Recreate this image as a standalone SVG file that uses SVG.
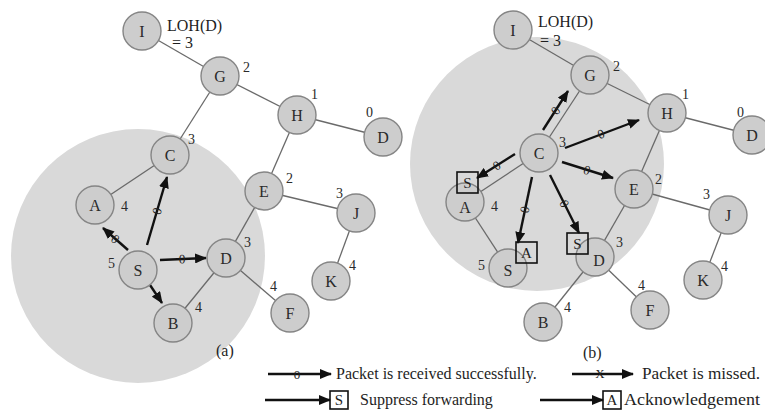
<svg xmlns="http://www.w3.org/2000/svg" width="765" height="412" viewBox="0 0 765 412">
  <style>
    .zone { fill: #d9d9d9; }
    .edge { stroke: #6a6a6a; stroke-width: 1.3; fill: none; }
    .node circle { fill: #cdcdcd; stroke: #858585; stroke-width: 1.4; }
    .node text { font-family: "Liberation Serif", serif; font-size: 16px; fill: #2a2a2a; text-anchor: middle; dominant-baseline: central; }
    .lvl { font-family: "Liberation Serif", serif; font-size: 14px; fill: #2a2a2a; }
    .note { font-family: "Liberation Serif", serif; font-size: 16px; fill: #1e1e1e; }
    .pkt { stroke: #111; stroke-width: 2.4; fill: none; marker-end: url(#head); }
    .mark { font-family: "Liberation Serif", serif; font-size: 13px; fill: #222; text-anchor: middle; dominant-baseline: central; }
    .box rect { fill: none; stroke: #111; stroke-width: 1.6; }
    .box text { font-family: "Liberation Serif", serif; font-size: 15px; fill: #1e1e1e; text-anchor: middle; dominant-baseline: central; }
  </style>
  <defs>
    <marker id="head" markerUnits="userSpaceOnUse" markerWidth="12" markerHeight="10" refX="11" refY="5" orient="auto">
      <path d="M0,0 L12,5 L0,10 Z" fill="#111"/>
    </marker>
  </defs>

  <rect width="765" height="412" fill="#ffffff"/>

  <!-- transmission ranges -->
  <circle class="zone" cx="138" cy="256" r="127"/>
  <circle class="zone" cx="537" cy="164" r="127"/>

  <!-- links -->
  <g id="connectors">
    <g id="links-a">
      <line class="edge" x1="142" y1="31" x2="220" y2="76"/>
      <line class="edge" x1="220" y1="76" x2="170" y2="155"/>
      <line class="edge" x1="220" y1="76" x2="297" y2="115"/>
      <line class="edge" x1="297" y1="115" x2="383" y2="137"/>
      <line class="edge" x1="297" y1="115" x2="264" y2="191"/>
      <line class="edge" x1="170" y1="155" x2="95" y2="205"/>
      <line class="edge" x1="264" y1="191" x2="226" y2="258"/>
      <line class="edge" x1="264" y1="191" x2="356" y2="213"/>
      <line class="edge" x1="356" y1="213" x2="331" y2="281"/>
      <line class="edge" x1="226" y1="258" x2="290" y2="313"/>
      <line class="edge" x1="226" y1="258" x2="173" y2="323"/>
    </g>
    <g id="links-b">
      <line class="edge" x1="513" y1="30" x2="590" y2="75"/>
      <line class="edge" x1="590" y1="75" x2="539" y2="153"/>
      <line class="edge" x1="590" y1="75" x2="667" y2="113"/>
      <line class="edge" x1="667" y1="113" x2="752" y2="135"/>
      <line class="edge" x1="667" y1="113" x2="634" y2="189"/>
      <line class="edge" x1="539" y1="153" x2="465" y2="202"/>
      <line class="edge" x1="465" y1="202" x2="508" y2="268"/>
      <line class="edge" x1="634" y1="189" x2="595" y2="257"/>
      <line class="edge" x1="634" y1="189" x2="728" y2="215"/>
      <line class="edge" x1="728" y1="215" x2="703" y2="280"/>
      <line class="edge" x1="595" y1="257" x2="650" y2="310"/>
      <line class="edge" x1="595" y1="257" x2="543" y2="322"/>
    </g>

    <!-- packet transmissions -->
    <g id="packets-a">
      <line class="pkt" x1="128" y1="250" x2="103" y2="228"/>
      <text class="mark" transform="translate(115.5,239) rotate(41)">0</text>
      <line class="pkt" x1="147" y1="245" x2="167" y2="177"/>
      <text class="mark" transform="translate(157,211) rotate(-73)">0</text>
      <line class="pkt" x1="160" y1="260" x2="206" y2="258"/>
      <text class="mark" transform="translate(182,259) rotate(-2)">0</text>
      <line class="pkt" x1="150" y1="285" x2="162" y2="303"/>
    </g>
    <g id="packets-b">
      <line class="pkt" x1="543" y1="130" x2="568" y2="91"/>
      <text class="mark" transform="translate(555.5,110.5) rotate(-57)">0</text>
      <line class="pkt" x1="565" y1="148" x2="639" y2="120"/>
      <text class="mark" transform="translate(601,134) rotate(-21)">0</text>
      <line class="pkt" x1="562" y1="162" x2="613" y2="178"/>
      <text class="mark" transform="translate(587,170) rotate(18)">0</text>
      <line class="pkt" x1="550" y1="175" x2="579" y2="233"/>
      <text class="mark" transform="translate(564.5,203.5) rotate(63)">0</text>
      <line class="pkt" x1="515" y1="154" x2="477" y2="178"/>
      <text class="mark" transform="translate(496.5,165.5) rotate(-32)">0</text>
      <line class="pkt" x1="532" y1="177" x2="518" y2="243"/>
      <text class="mark" transform="translate(524.5,209.5) rotate(-77)">0</text>
    </g>
  </g>

  <!-- nodes, panel (a) -->
  <g id="a-I" class="node"><circle cx="142" cy="31" r="19"/><text x="142" y="31">I</text></g>
  <g id="a-G" class="node"><circle cx="220" cy="76" r="19"/><text x="220" y="76">G</text></g>
  <g id="a-H" class="node"><circle cx="297" cy="115" r="19"/><text x="297" y="115">H</text></g>
  <g id="a-Dst" class="node"><circle cx="383" cy="137" r="19"/><text x="383" y="137">D</text></g>
  <g id="a-C" class="node"><circle cx="170" cy="155" r="19"/><text x="170" y="155">C</text></g>
  <g id="a-E" class="node"><circle cx="264" cy="191" r="19"/><text x="264" y="191">E</text></g>
  <g id="a-J" class="node"><circle cx="356" cy="213" r="19"/><text x="356" y="213">J</text></g>
  <g id="a-K" class="node"><circle cx="331" cy="281" r="19"/><text x="331" y="281">K</text></g>
  <g id="a-A" class="node"><circle cx="95" cy="205" r="19"/><text x="95" y="205">A</text></g>
  <g id="a-S" class="node"><circle cx="138" cy="270" r="19"/><text x="138" y="270">S</text></g>
  <g id="a-D" class="node"><circle cx="226" cy="258" r="19"/><text x="226" y="258">D</text></g>
  <g id="a-B" class="node"><circle cx="173" cy="323" r="19"/><text x="173" y="323">B</text></g>
  <g id="a-F" class="node"><circle cx="290" cy="313" r="19"/><text x="290" y="313">F</text></g>

  <!-- nodes, panel (b) -->
  <g id="b-I" class="node"><circle cx="513" cy="30" r="19"/><text x="513" y="30">I</text></g>
  <g id="b-G" class="node"><circle cx="590" cy="75" r="19"/><text x="590" y="75">G</text></g>
  <g id="b-H" class="node"><circle cx="667" cy="113" r="19"/><text x="667" y="113">H</text></g>
  <g id="b-Dst" class="node"><circle cx="752" cy="135" r="19"/><text x="752" y="135">D</text></g>
  <g id="b-C" class="node"><circle cx="539" cy="153" r="19"/><text x="539" y="153">C</text></g>
  <g id="b-E" class="node"><circle cx="634" cy="189" r="19"/><text x="634" y="189">E</text></g>
  <g id="b-J" class="node"><circle cx="728" cy="215" r="19"/><text x="728" y="215">J</text></g>
  <g id="b-K" class="node"><circle cx="703" cy="280" r="19"/><text x="703" y="280">K</text></g>
  <g id="b-A" class="node"><circle cx="465" cy="202" r="19"/><text x="465" y="207">A</text></g>
  <g id="b-S" class="node"><circle cx="508" cy="268" r="19"/><text x="508" y="270">S</text></g>
  <g id="b-D" class="node"><circle cx="595" cy="257" r="19"/><text x="599" y="260">D</text></g>
  <g id="b-B" class="node"><circle cx="543" cy="322" r="19"/><text x="543" y="322">B</text></g>
  <g id="b-F" class="node"><circle cx="650" cy="310" r="19"/><text x="650" y="310">F</text></g>

  <!-- suppress / acknowledgement tags -->
  <g id="b-tag-S-at-A" class="box"><rect x="457" y="172" width="21" height="21"/><text x="467.5" y="182.5">S</text></g>
  <g id="b-tag-A-at-S" class="box"><rect x="516" y="242" width="21" height="21"/><text x="526.5" y="252.5">A</text></g>
  <g id="b-tag-S-at-D" class="box"><rect x="567" y="233" width="21" height="21"/><text x="577.5" y="243.5">S</text></g>

  <!-- hop-count labels -->
  <g id="levels-a" class="lvl">
    <text x="167" y="31" class="note">LOH(D)</text>
    <text x="172" y="48" class="note">= 3</text>
    <text x="243" y="72">2</text>
    <text x="311" y="99">1</text>
    <text x="366" y="117">0</text>
    <text x="188" y="144">3</text>
    <text x="286" y="183">2</text>
    <text x="336" y="198">3</text>
    <text x="349" y="270">4</text>
    <text x="121" y="211">4</text>
    <text x="108" y="268">5</text>
    <text x="244" y="247">3</text>
    <text x="195" y="312">4</text>
    <text x="270" y="291">4</text>
    <text x="216" y="356" class="note">(a)</text>
  </g>
  <g id="levels-b" class="lvl">
    <text x="538" y="27" class="note">LOH(D)</text>
    <text x="540" y="46" class="note">= 3</text>
    <text x="613" y="71">2</text>
    <text x="682" y="99">1</text>
    <text x="737" y="117">0</text>
    <text x="559" y="147">3</text>
    <text x="655" y="184">2</text>
    <text x="703" y="199">3</text>
    <text x="721" y="271">4</text>
    <text x="491" y="211">4</text>
    <text x="478" y="270">5</text>
    <text x="616" y="247">3</text>
    <text x="564" y="312">4</text>
    <text x="638" y="290">4</text>
    <text x="583" y="358" class="note">(b)</text>
  </g>

  <!-- key -->
  <g id="key">
    <line class="pkt" x1="268" y1="374" x2="331" y2="374"/>
    <text class="mark" x="297" y="374">0</text>
    <text class="note" x="336" y="379">Packet is received successfully.</text>
    <line class="pkt" x1="572" y1="374" x2="633" y2="374"/>
    <text class="mark" x="600" y="373">X</text>
    <text class="note" x="642" y="379" textLength="118" lengthAdjust="spacingAndGlyphs">Packet is missed.</text>
    <line class="pkt" x1="265" y1="400" x2="330" y2="400"/>
    <g class="box"><rect x="330" y="391" width="18" height="18"/><text x="339" y="400">S</text></g>
    <text class="note" x="360" y="405">Suppress forwarding</text>
    <line class="pkt" x1="540" y1="400" x2="603" y2="400"/>
    <g class="box"><rect x="603" y="391" width="18" height="18"/><text x="612" y="400">A</text></g>
    <text class="note" x="624" y="405" textLength="136" lengthAdjust="spacingAndGlyphs">Acknowledgement</text>
  </g>
</svg>
